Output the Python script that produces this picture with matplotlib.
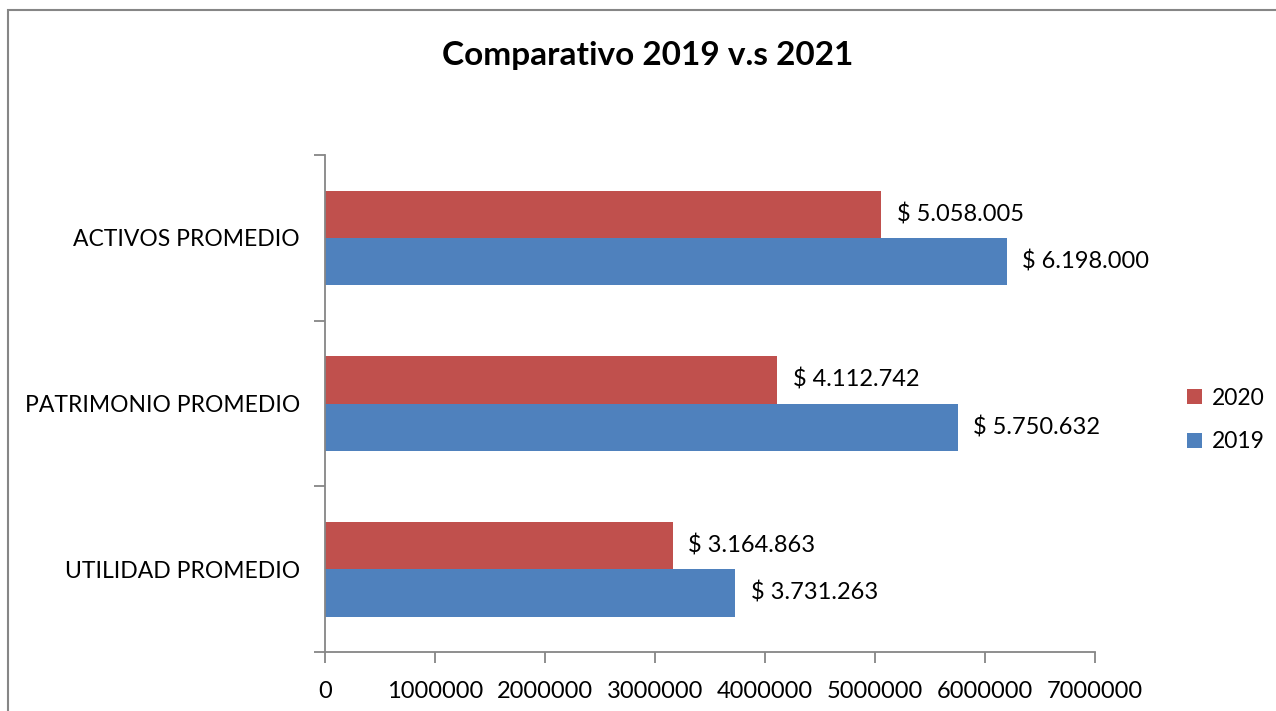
import numpy as np
import matplotlib.pyplot as plt
from matplotlib.patches import Rectangle

plt.rcParams['font.family'] = ['Lato', 'DejaVu Sans']

# data: categories listed bottom to top
categorias = ['UTILIDAD PROMEDIO', 'PATRIMONIO PROMEDIO', 'ACTIVOS PROMEDIO']
valores_2019 = [3731263, 5750632, 6198000]
valores_2020 = [3164863, 4112742, 5058005]
xticks = [0, 1000000, 2000000, 3000000, 4000000, 5000000, 6000000, 7000000]

AZUL = '#4F81BD'
ROJO = '#C0504D'
GRIS = '#868686'

def fmt(v):
    return '$ ' + '{:,}'.format(v).replace(',', '.')

fig = plt.figure(figsize=(12.76, 7.11), dpi=100)
ax = fig.add_axes([325/1276, 1-652/711, 770/1276, 497/711])

# outer chart border
fig.patches.append(Rectangle((8/1276, -0.1), 1.2, 1-10/711+0.1,
                             transform=fig.transFigure, fill=False,
                             edgecolor=GRIS, linewidth=1.5))

y = np.arange(len(categorias))
h = 1/3.5
b19 = ax.barh(y - h/2, valores_2019, height=h, color=AZUL, label='2019')
b20 = ax.barh(y + h/2, valores_2020, height=h, color=ROJO, label='2020')

for bars, vals in ((b19, valores_2019), (b20, valores_2020)):
    for rect, v in zip(bars, vals):
        ax.annotate(fmt(v), (v, rect.get_y() + rect.get_height()/2),
                    xytext=(11, 0), textcoords='offset points',
                    ha='left', va='center', fontsize=17)

ax.set_xlim(0, 7000000)
ax.set_ylim(-0.5, 2.5)
ax.set_xticks(xticks)
ax.set_xticklabels([str(t) for t in xticks], fontsize=17)

# category boundary ticks on y, labels at centers
ax.set_yticks([-0.5, 0.5, 1.5, 2.5])
ax.set_yticklabels([])
ax.set_yticks(y, minor=True)
ax.set_yticklabels(categorias, minor=True, fontsize=16.5)
ax.tick_params(axis='y', which='minor', length=0, pad=18)
ax.tick_params(axis='y', which='major', length=8, color=GRIS, width=1.3)
ax.tick_params(axis='x', length=8, color=GRIS, width=1.3, pad=13)

for s in ('top', 'right'):
    ax.spines[s].set_visible(False)
for s in ('left', 'bottom'):
    ax.spines[s].set_color(GRIS)
    ax.spines[s].set_linewidth(1.3)

handles = [b20, b19]
fig.legend(handles, ['2020', '2019'], loc='center left',
           bbox_to_anchor=(1166/1276, 1-420/711), frameon=False,
           fontsize=16.5, handlelength=0.65, handleheight=0.65,
           handletextpad=0.45, labelspacing=1.0)

fig.suptitle('Comparativo 2019 v.s 2021', x=648/1276, y=1-55/711,
             va='center', fontsize=24, fontweight='bold')

fig.savefig('out.png', dpi=100)
